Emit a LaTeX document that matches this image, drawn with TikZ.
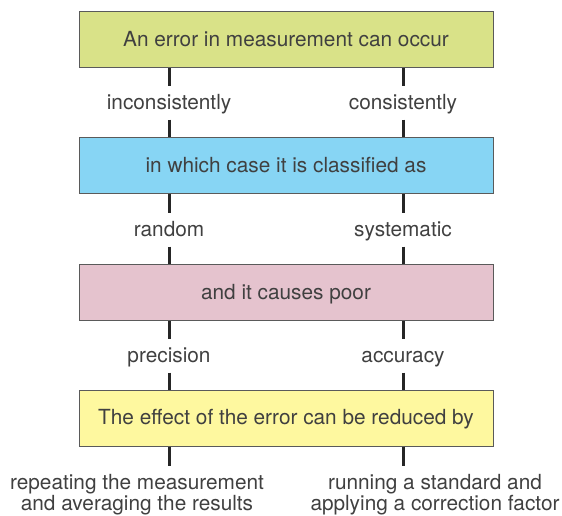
\documentclass[tikz,border=0pt]{standalone}
\usepackage{fontspec}
\setmainfont{TeX Gyre Heros}

\definecolor{textgray}{HTML}{404040}
\definecolor{edgegray}{HTML}{5A5A5A}
\definecolor{linegray}{HTML}{262626}
\definecolor{greenbox}{HTML}{D9E288}
\definecolor{bluebox}{HTML}{87D5F4}
\definecolor{pinkbox}{HTML}{E5C3CE}
\definecolor{yellowbox}{HTML}{FEF89F}

\tikzset{
  box/.style={draw=edgegray,line width=1pt,minimum width=414pt,minimum height=56pt,
    inner sep=0pt,text=textgray,text height=15.6pt,text depth=2.1pt,
    font=\fontsize{20.8}{21.5}\selectfont},
  lbl/.style={text=textgray,font=\fontsize{20.8}{21.5}\selectfont,text height=15.6pt,
    text depth=2.1pt,minimum height=33pt,inner sep=0pt},
  res/.style={text=textgray,font=\fontsize{20.8}{21.5}\selectfont,align=center,inner sep=0pt},
  link/.style={draw=linegray,line width=3pt}
}

\begin{document}
\begin{tikzpicture}[x=1pt,y=-1pt]

  \useasboundingbox (0,0) rectangle (562,516);

  \node[box,fill=greenbox] (B1) at (286,40) {An error in measurement can occur};
  \node[box,fill=bluebox] (B2) at (286,165.5) {in which case it is classified as};
  \node[box,fill=pinkbox] (B3) at (286,292.5) {and it causes poor};
  \node[box,fill=yellowbox] (B4) at (286,418) {The effect of the error can be reduced by};

  \node[lbl] (L1) at (169,103) {inconsistently};
  \node[lbl] (R1) at (403,103) {consistently};
  \node[lbl] (L2) at (169,230) {random};
  \node[lbl] (R2) at (403,230) {systematic};
  \node[lbl] (L3) at (169,356) {precision};
  \node[lbl] (R3) at (403,356) {accuracy};

  \coordinate (LE) at (169,466);
  \coordinate (RE) at (403,466);
  \node[res,anchor=north] (L4) at (137,474) {repeating the measurement\\and averaging the results};
  \node[res,anchor=north] (R4) at (435,474) {running a standard and\\applying a correction factor};

  % left column
  \draw[link] (B1.south -| L1) -- (L1.north);
  \draw[link] (L1.south) -- (B2.north -| L1);
  \draw[link] (B2.south -| L2) -- (L2.north);
  \draw[link] (L2.south) -- (B3.north -| L2);
  \draw[link] (B3.south -| L3) -- (L3.north);
  \draw[link] (L3.south) -- (B4.north -| L3);
  \draw[link] (B4.south -| LE) -- (LE);

  % right column
  \draw[link] (B1.south -| R1) -- (R1.north);
  \draw[link] (R1.south) -- (B2.north -| R1);
  \draw[link] (B2.south -| R2) -- (R2.north);
  \draw[link] (R2.south) -- (B3.north -| R2);
  \draw[link] (B3.south -| R3) -- (R3.north);
  \draw[link] (R3.south) -- (B4.north -| R3);
  \draw[link] (B4.south -| RE) -- (RE);

\end{tikzpicture}
\end{document}
